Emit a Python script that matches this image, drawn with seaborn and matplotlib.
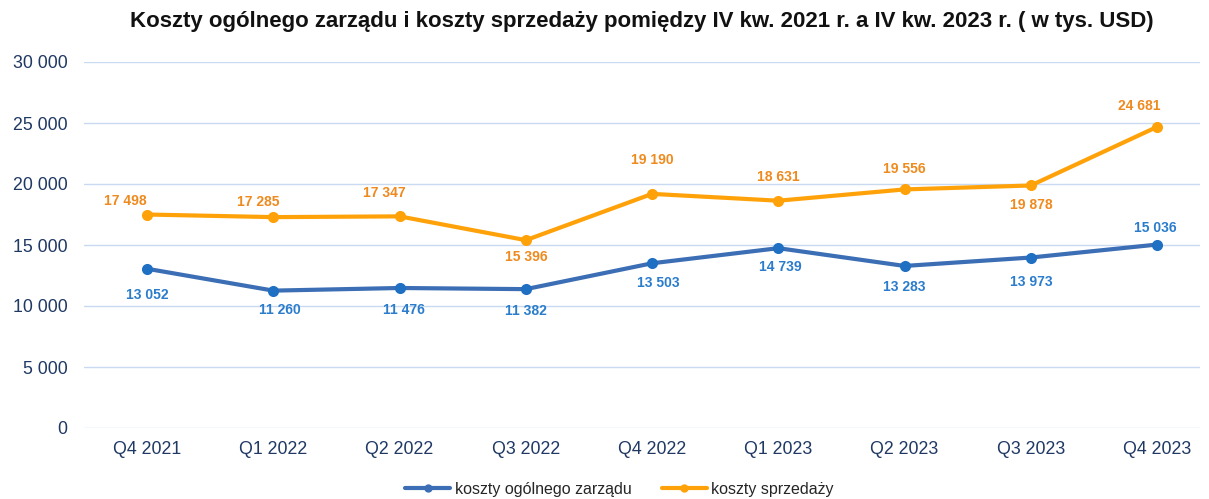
import numpy as np
import pandas as pd
import matplotlib
matplotlib.use("Agg")
import matplotlib.pyplot as plt
import seaborn as sns

# --- DATA ---
quarters = ["Q4 2021", "Q1 2022", "Q2 2022", "Q3 2022", "Q4 2022",
            "Q1 2023", "Q2 2023", "Q3 2023", "Q4 2023"]
zarzad = [13052, 11260, 11476, 11382, 13503, 14739, 13283, 13973, 15036]
sprzedaz = [17498, 17285, 17347, 15396, 19190, 18631, 19556, 19878, 24681]
yticks = [0, 5000, 10000, 15000, 20000, 25000, 30000]

# --- LABEL OFFSETS (pixels, dx, dy; +dy = up) ---
zarzad_dx = [0, 7, 4, 0, 6, 2, 0, 0, -2]
zarzad_dy = [-26, -19, -22, -22, -20, -19, -21, -24, 17]
sprzedaz_dx = [-22, -15, -15, 0, 0, 0, 0, 0, -18]
sprzedaz_dy = [14, 15, 23, -17, 34, 24, 20, -20, 21]

BLUE_LINE = "#3b6eb4"
BLUE_MARK = "#1f6fc2"
BLUE_TXT = "#2b7dcc"
ORANGE = "#ffa20a"
ORANGE_TXT = "#ef8a1e"
NAVY = "#1f3864"
PX = 0.72  # points per pixel at dpi 100


def fmt(v):
    return f"{v:,}".replace(",", " ")


sns.set_theme(style="white")
plt.rcParams["font.family"] = ["Liberation Sans", "DejaVu Sans"]

df = pd.DataFrame({
    "kwartal": quarters * 2,
    "wartosc": zarzad + sprzedaz,
    "seria": ["koszty ogólnego zarządu"] * len(quarters) + ["koszty sprzedaży"] * len(quarters),
})

fig = plt.figure(figsize=(12.09, 4.99), dpi=100)
ax = fig.add_axes([84 / 1209, 1 - 428 / 499, 1116 / 1209, 366 / 499])

sns.lineplot(
    data=df, x="kwartal", y="wartosc", hue="seria",
    palette={"koszty ogólnego zarządu": BLUE_LINE, "koszty sprzedaży": ORANGE},
    linewidth=3.0, marker="o", markersize=8, markeredgewidth=0,
    sort=False, ax=ax,
)
ax.lines[0].set_markerfacecolor(BLUE_MARK)

for i, v in enumerate(zarzad):
    ax.annotate(fmt(v), (i, v), xytext=(zarzad_dx[i] * PX, zarzad_dy[i] * PX),
                textcoords="offset points", ha="center", va="center",
                fontsize=10, fontweight="bold", color=BLUE_TXT)
for i, v in enumerate(sprzedaz):
    ax.annotate(fmt(v), (i, v), xytext=(sprzedaz_dx[i] * PX, sprzedaz_dy[i] * PX),
                textcoords="offset points", ha="center", va="center",
                fontsize=10, fontweight="bold", color=ORANGE_TXT)

ax.set_ylim(0, 30000)
ax.set_xlim(-0.5, 8.34)
ax.set_yticks(yticks)
ax.set_yticklabels([fmt(t) for t in yticks])
ax.yaxis.grid(True, color="#c9d9f0", linewidth=1)
ax.xaxis.grid(False)
for s in ax.spines.values():
    s.set_visible(False)
ax.tick_params(axis="both", length=0, colors=NAVY, labelsize=12.8)
ax.tick_params(axis="y", pad=12)
ax.tick_params(axis="x", pad=9)
ax.set_xlabel("")
ax.set_ylabel("")

fig.text(0.531, 1 - 22 / 499,
         "Koszty ogólnego zarządu i koszty sprzedaży pomiędzy IV kw. 2021 r. a IV kw. 2023 r. ( w tys. USD)",
         ha="center", va="center", fontsize=16, fontweight="bold", color="#111111")

leg = ax.legend(loc="center", bbox_to_anchor=(0.48, -0.168), ncol=2, frameon=False,
                fontsize=11.5, handlelength=2.8, columnspacing=1.9, handletextpad=0.3)
for h in leg.get_lines():
    h.set_linewidth(3)
    h.set_markersize(6)

fig.savefig("out.png", dpi=100)
